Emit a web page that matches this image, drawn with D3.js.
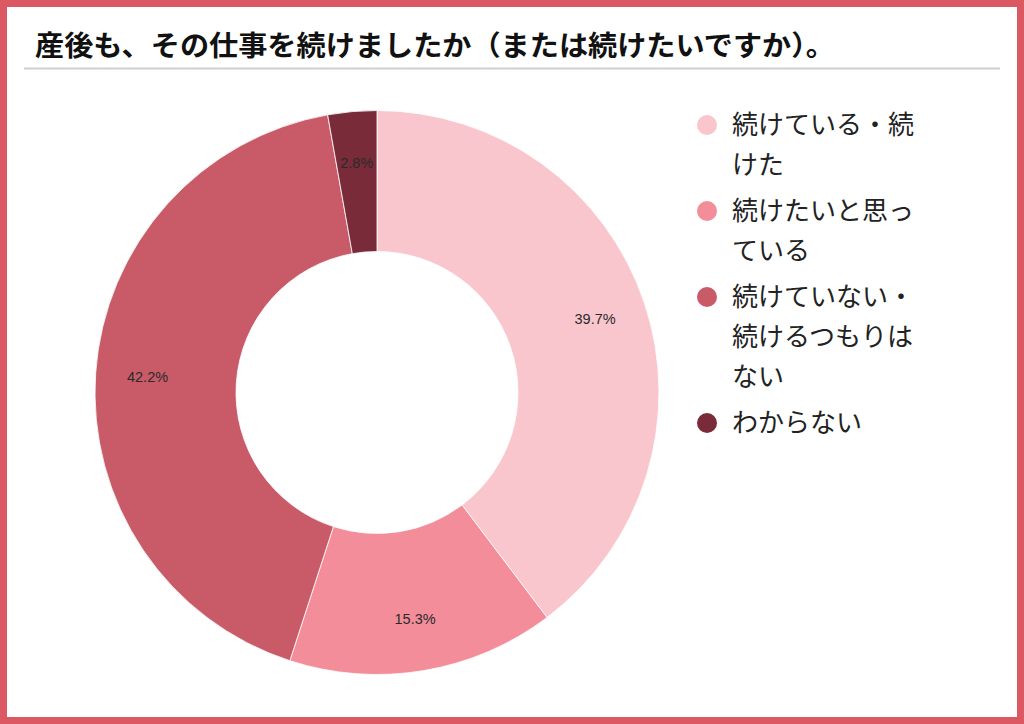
<!DOCTYPE html>
<html lang="ja">
<head>
<meta charset="UTF-8">
<title>産後も、その仕事を続けましたか</title>
<script src="https://d3js.org/d3.v7.min.js"></script>
<style>
  html, body { margin: 0; padding: 0; background: #fff; }
  svg { display: block; }
</style>
</head>
<body>
<svg id="chart" width="1024" height="724"></svg>
<script>
// data
const title = "産後も、その仕事を続けましたか（または続けたいですか）。";
const categories = ["続けている・続けた", "続けたいと思っている", "続けていない・続けるつもりはない", "わからない"];
const values = [39.7, 15.3, 42.2, 2.8];
const colors = ["#f9c6ce", "#f38d9a", "#c95b69", "#7a2b39"];

const svg = d3.select("#chart");
const W = 1024, H = 724;

// frame
svg.append("rect")
    .attr("x", 3.5).attr("y", 3.5)
    .attr("width", W - 7).attr("height", H - 7)
    .attr("fill", "#fff")
    .attr("stroke", "#dc5863")
    .attr("stroke-width", 7);

svg.append("text")
    .attr("x", 35).attr("y", 56)
    .attr("font-family", "'Noto Sans CJK JP', sans-serif")
    .attr("font-weight", "bold")
    .attr("font-size", 28)
    .attr("textLength", 800)
    .attr("lengthAdjust", "spacingAndGlyphs")
    .attr("fill", "#111")
    .text(title);

svg.append("line")
    .attr("x1", 24).attr("x2", 1000)
    .attr("y1", 68.5).attr("y2", 68.5)
    .attr("stroke", "#cfcfcf")
    .attr("stroke-width", 2);

// donut
const cx = 377, cy = 392.5, outerR = 282, innerR = 141;
const pie = d3.pie().sort(null).value(d => d);
const arc = d3.arc().innerRadius(innerR).outerRadius(outerR);
const labelArc = d3.arc().innerRadius(230).outerRadius(230);

const g = svg.append("g").attr("transform", `translate(${cx},${cy})`);
const arcs = pie(values);

g.selectAll("path")
    .data(arcs)
    .enter().append("path")
    .attr("d", arc)
    .attr("fill", (d, i) => colors[i])
    .attr("stroke", "#fff")
    .attr("stroke-width", 0.8);

g.selectAll("text.pct")
    .data(arcs)
    .enter().append("text")
    .attr("class", "pct")
    .attr("transform", d => `translate(${labelArc.centroid(d)})`)
    .attr("text-anchor", "middle")
    .attr("dy", "0.35em")
    .attr("font-family", "'Liberation Sans', Arial, sans-serif")
    .attr("font-size", 14.5)
    .attr("fill", "#2a2a2a")
    .text(d => d.data.toFixed(1) + "%");

// legend with wrapping
const legend = svg.append("g");
const lx = 707, tx = 732, maxW = 192, lineH = 40, gap = 46;
let y = 125;
categories.forEach((name, i) => {
    legend.append("circle")
        .attr("cx", lx).attr("cy", y)
        .attr("r", 10)
        .attr("fill", colors[i]);
    const t = legend.append("text")
        .attr("font-family", "'Noto Sans CJK JP', sans-serif")
        .attr("font-size", 26)
        .attr("fill", "#222");
    // split into lines that fit maxW
    const lines = [];
    let cur = "";
    const probe = t.append("tspan");
    for (const ch of name) {
        probe.text(cur + ch);
        if (probe.node().getComputedTextLength() > maxW && cur) {
            lines.push(cur);
            cur = ch;
        } else {
            cur += ch;
        }
    }
    lines.push(cur);
    probe.remove();
    lines.forEach((ln, k) => {
        t.append("tspan")
            .attr("x", tx)
            .attr("y", y + k * lineH)
            .attr("dy", "0.35em")
            .text(ln);
    });
    y += (lines.length - 1) * lineH + gap;
});
</script>
</body>
</html>
